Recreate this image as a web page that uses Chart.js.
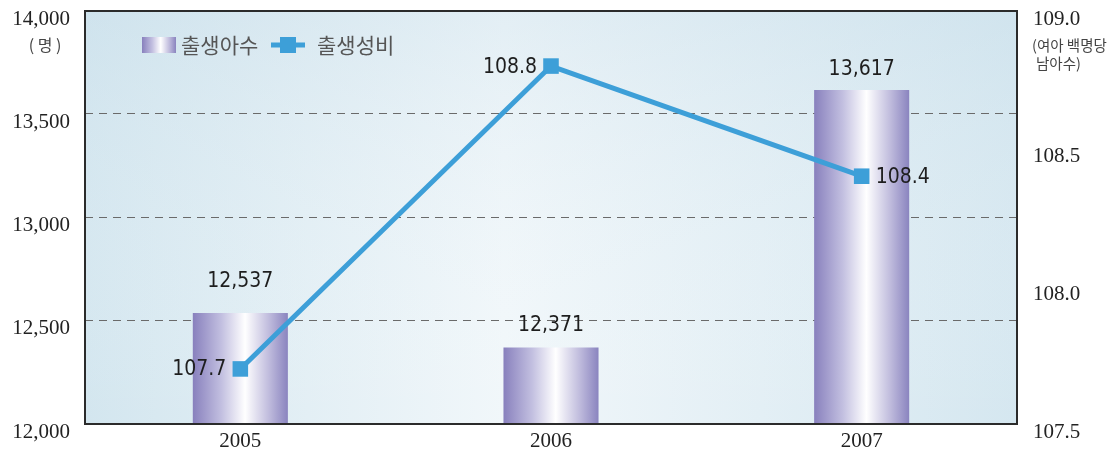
<!DOCTYPE html>
<html>
<head>
<meta charset="utf-8">
<script src="https://cdn.jsdelivr.net/npm/chart.js@4.4.0/dist/chart.umd.min.js"></script>
<style>
  html, body { margin: 0; padding: 0; background: #fff; }
  #wrap { width: 1116px; height: 459px; }
</style>
</head>
<body>
<div id="wrap"><canvas id="chart" width="1116" height="459"></canvas></div>
<script>
const years = ["2005", "2006", "2007"];
const births = [12537, 12371, 13617];
const sexRatio = [107.7, 108.8, 108.4];
const leftTicks = [12000, 12500, 13000, 13500, 14000];
const rightTicks = [107.5, 108.0, 108.5, 109.0];

const barPct = 0.306;
const serif = '"Liberation Serif", "DejaVu Serif", serif';
const cjk = '"Noto Sans CJK KR", "Noto Sans", sans-serif';
const num = '"DejaVu Sans Condensed", "DejaVu Sans", sans-serif';
const lineBlue = "#3d9fd8";

const barGradient = (ctx, left, right) => {
  const g = ctx.createLinearGradient(left, 0, right, 0);
  g.addColorStop(0, "#8880bd");
  g.addColorStop(0.3, "#c2bfe0");
  g.addColorStop(0.55, "#ffffff");
  g.addColorStop(0.8, "#c0bcdd");
  g.addColorStop(1, "#8a84bf");
  return g;
};

const barFill = (context) => {
  const chart = context.chart;
  const area = chart.chartArea;
  if (!area || !chart.scales.x) return "#b0acd6";
  const cx = chart.scales.x.getPixelForValue(context.dataIndex);
  const half = (area.width / years.length) * barPct / 2;
  return barGradient(chart.ctx, cx - half, cx + half);
};

// background, gridlines, axis text
const decor = {
  id: "decor",
  beforeDatasetsDraw(chart) {
    const { ctx, chartArea: a, scales } = chart;
    ctx.save();
    const bg = ctx.createLinearGradient(a.left, 0, a.right, 0);
    bg.addColorStop(0, "#d3e6ef");
    bg.addColorStop(0.45, "#f1f7fa");
    bg.addColorStop(1, "#d5e7f0");
    ctx.fillStyle = bg;
    ctx.fillRect(a.left, a.top, a.width, a.height);
    const vg = ctx.createLinearGradient(0, a.top, 0, a.bottom);
    vg.addColorStop(0, "rgba(200,222,234,0.35)");
    vg.addColorStop(1, "rgba(255,255,255,0)");
    ctx.fillStyle = vg;
    ctx.fillRect(a.left, a.top, a.width, a.height);

    ctx.strokeStyle = "#6a6a6a";
    ctx.lineWidth = 1;
    ctx.setLineDash([8, 6]);
    leftTicks.slice(1, -1).forEach((v) => {
      const y = Math.round(scales.y.getPixelForValue(v)) - 0.5;
      ctx.beginPath();
      ctx.moveTo(a.left, y);
      ctx.lineTo(a.right, y);
      ctx.stroke();
    });
    ctx.setLineDash([]);

    ctx.fillStyle = "#222";
    ctx.font = "21px " + serif;
    ctx.textBaseline = "middle";
    ctx.textAlign = "right";
    leftTicks.forEach((v) => {
      ctx.fillText(v.toLocaleString("en-US"), 70, scales.y.getPixelForValue(v) + 8);
    });
    ctx.textAlign = "left";
    rightTicks.forEach((v) => {
      ctx.fillText(v.toFixed(1), 1033, scales.y1.getPixelForValue(v) + 8);
    });
    ctx.textAlign = "center";
    years.forEach((yr, i) => {
      ctx.fillText(yr, scales.x.getPixelForValue(i), 441);
    });

    ctx.fillStyle = "#444";
    ctx.font = "16px " + cjk;
    ctx.fillText("( 명 )", 45, 45);
    ctx.font = "14.5px " + cjk;
    ctx.textAlign = "left";
    ctx.fillText("(여아 백명당", 1032, 45);
    ctx.fillText("남아수)", 1036, 63);
    ctx.restore();
  },
  afterDatasetsDraw(chart) {
    const { ctx, chartArea: a } = chart;
    ctx.save();
    // frame
    ctx.strokeStyle = "#2b2b2b";
    ctx.lineWidth = 2;
    ctx.strokeRect(a.left, a.top, a.width, a.height);

    // value labels
    ctx.fillStyle = "#1e1e1e";
    ctx.font = "21px " + num;
    ctx.textBaseline = "middle";
    const barMeta = chart.getDatasetMeta(0);
    const barLift = [32, 22, 21];
    barMeta.data.forEach((el, i) => {
      ctx.textAlign = "center";
      ctx.fillText(births[i].toLocaleString("en-US"), el.x, el.y - barLift[i]);
    });
    const lineMeta = chart.getDatasetMeta(1);
    const side = [-1, -1, 1];
    lineMeta.data.forEach((el, i) => {
      ctx.textAlign = side[i] < 0 ? "right" : "left";
      ctx.fillText(sexRatio[i].toFixed(1), el.x + side[i] * 14, el.y + 1);
    });

    // legend
    ctx.fillStyle = barGradient(ctx, 142, 176);
    ctx.fillRect(142, 37, 34, 16);
    ctx.fillStyle = "#555";
    ctx.font = "21px " + cjk;
    ctx.textAlign = "left";
    ctx.fillText("출생아수", 181, 45);
    ctx.strokeStyle = lineBlue;
    ctx.lineWidth = 5;
    ctx.beginPath();
    ctx.moveTo(271, 45);
    ctx.lineTo(305, 45);
    ctx.stroke();
    ctx.fillStyle = lineBlue;
    ctx.fillRect(280, 37, 16, 16);
    ctx.fillStyle = "#555";
    ctx.fillText("출생성비", 317, 45);
    ctx.restore();
  }
};

new Chart(document.getElementById("chart"), {
  type: "bar",
  data: {
    labels: years,
    datasets: [
      {
        type: "bar",
        label: "출생아수",
        data: births,
        yAxisID: "y",
        backgroundColor: barFill,
        borderWidth: 0,
        categoryPercentage: 1,
        barPercentage: barPct,
        order: 2
      },
      {
        type: "line",
        label: "출생성비",
        data: sexRatio,
        yAxisID: "y1",
        borderColor: lineBlue,
        backgroundColor: lineBlue,
        borderWidth: 5,
        pointStyle: "rect",
        pointRadius: 11,
        pointBorderWidth: 0,
        tension: 0,
        order: 1
      }
    ]
  },
  options: {
    responsive: false,
    animation: false,
    layout: { padding: { left: 85, right: 99, top: 10, bottom: 35 } },
    plugins: { legend: { display: false }, tooltip: { enabled: false } },
    scales: {
      x: { display: false, offset: true },
      y: { display: false, min: 12000, max: 14000 },
      y1: { display: false, position: "right", min: 107.5, max: 109.0 }
    }
  },
  plugins: [decor]
});
</script>
</body>
</html>
